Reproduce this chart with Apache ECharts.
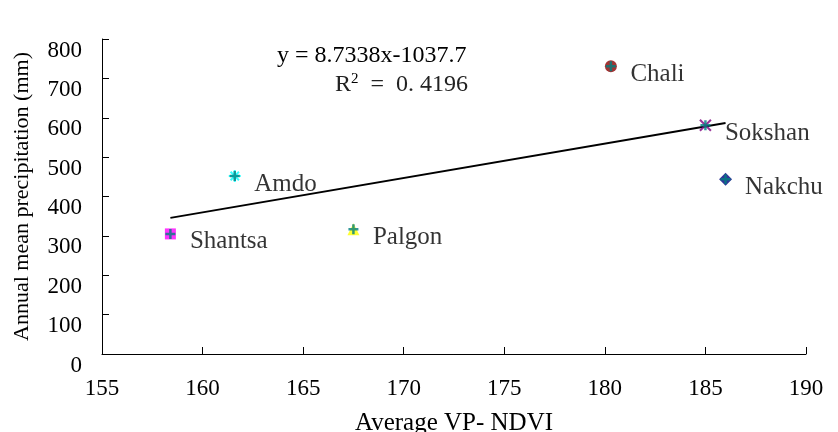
<!DOCTYPE html>
<html>
<head>
<meta charset="utf-8">
<script src="https://cdn.jsdelivr.net/npm/echarts@6/dist/echarts.min.js"></script>
<style>
  html, body { margin: 0; padding: 0; background: #fff; }
  #main { width: 838px; height: 432px; }
</style>
</head>
<body>
<div id="main"></div>
<script>
// station data
var stations = ['Shantsa', 'Amdo', 'Palgon', 'Chali', 'Sokshan', 'Nakchu'];
var ndvi = [158.4, 161.6, 167.5, 180.3, 185.0, 186.0];
var precip = [305, 452, 317, 731, 581, 444];

// trend line as printed on the chart
var slope = 8.7338;
var intercept = -1037.7;
var eqText = 'y = 8.7338x-1037.7';
var r2Text = '0. 4196';

var xTicks = [155, 160, 165, 170, 175, 180, 185, 190];
var yTicks = [0, 100, 200, 300, 400, 500, 600, 700, 800];

// marker look for each station (excel style)
var markerStyle = {
    Shantsa: {symbol: 'rect', size: 11, color: '#ff00ff'},
    Amdo: {symbol: 'path://M0,-1L0,1M-1,0L1,0M-0.7,-0.7L0.7,0.7M-0.7,0.7L0.7,-0.7', size: 12, color: '#00ffff', line: true},
    Palgon: {symbol: 'triangle', size: 12, color: '#ffff00'},
    Chali: {symbol: 'circle', size: 12, color: '#8b0000'},
    Sokshan: {symbol: 'path://M-0.8,-0.8L0.8,0.8M-0.8,0.8L0.8,-0.8', size: 11, color: '#800080', line: true},
    Nakchu: {symbol: 'diamond', size: 13, color: '#000080'}
};

var font = '"Liberation Serif", "Times New Roman", serif';

var baseData = [];
var plusData = [];
for (var i = 0; i < stations.length; i++) {
    var st = markerStyle[stations[i]];
    baseData.push({
        name: stations[i],
        value: [ndvi[i], precip[i]],
        symbol: st.symbol,
        symbolSize: st.size,
        itemStyle: st.line ? {color: 'none', borderColor: st.color, borderWidth: 2} : {color: st.color}
    });
    plusData.push({name: stations[i], value: [ndvi[i], precip[i]]});
}

var xMin = Math.min.apply(null, ndvi);
var xMax = Math.max.apply(null, ndvi);
var trend = [[xMin, slope * xMin + intercept], [xMax, slope * xMax + intercept]];

var myChart = echarts.init(document.getElementById('main'));
var option = {
    backgroundColor: '#fff',
    animation: false,
    grid: {left: 102, right: 32, top: 39, bottom: 78, outerBoundsMode: 'none', containLabel: false},
    xAxis: {
        type: 'value',
        min: 155,
        max: 190,
        interval: 5,
        name: 'Average VP- NDVI',
        nameLocation: 'middle',
        nameGap: 57,
        nameTextStyle: {fontFamily: font, fontSize: 25, color: '#000'},
        axisLine: {lineStyle: {color: '#000', width: 1}},
        axisTick: {inside: true, length: 7, lineStyle: {color: '#000'}},
        axisLabel: {fontFamily: font, fontSize: 23, color: '#000', margin: 23},
        splitLine: {show: false}
    },
    yAxis: {
        type: 'value',
        min: 0,
        max: 800,
        interval: 100,
        name: 'Annual mean precipitation (mm)',
        nameLocation: 'middle',
        nameGap: 69,
        nameTextStyle: {fontFamily: font, fontSize: 22, color: '#000'},
        axisLine: {show: true, lineStyle: {color: '#000', width: 1}},
        axisTick: {show: true, inside: true, length: 7, lineStyle: {color: '#000'}},
        axisLabel: {fontFamily: font, fontSize: 23, color: '#000', margin: 20, verticalAlign: 'top'},
        splitLine: {show: false}
    },
    graphic: [
        {
            type: 'text',
            left: 277,
            top: 44,
            style: {text: eqText, font: '24px ' + font, fill: '#000'}
        },
        {
            type: 'text',
            left: 335,
            top: 72,
            style: {
                text: '{r|R}{s|2}{r|  =  ' + r2Text + '}',
                rich: {
                    r: {fontFamily: font, fontSize: 24, fill: '#222'},
                    s: {fontFamily: font, fontSize: 15, verticalAlign: 'top', padding: [0, 0, 10, 0]}
                }
            }
        }
    ],
    series: [
        {
            type: 'line',
            data: trend,
            symbol: 'none',
            lineStyle: {color: '#000', width: 2},
            z: 2
        },
        {
            type: 'scatter',
            data: baseData,
            z: 3
        },
        {
            type: 'scatter',
            data: plusData,
            symbol: 'path://M0,-1L0,1M-1,0L1,0',
            symbolSize: 10,
            itemStyle: {color: 'none', borderColor: '#008080', borderWidth: 2.5},
            z: 4,
            label: {
                show: true,
                position: 'right',
                distance: 12,
                formatter: '{b}',
                fontFamily: font,
                fontSize: 25,
                color: '#000',
                offset: [0, 8]
            }
        }
    ]
};
window.onresize = myChart.resize;
myChart.setOption(option);
</script>
</body>
</html>
